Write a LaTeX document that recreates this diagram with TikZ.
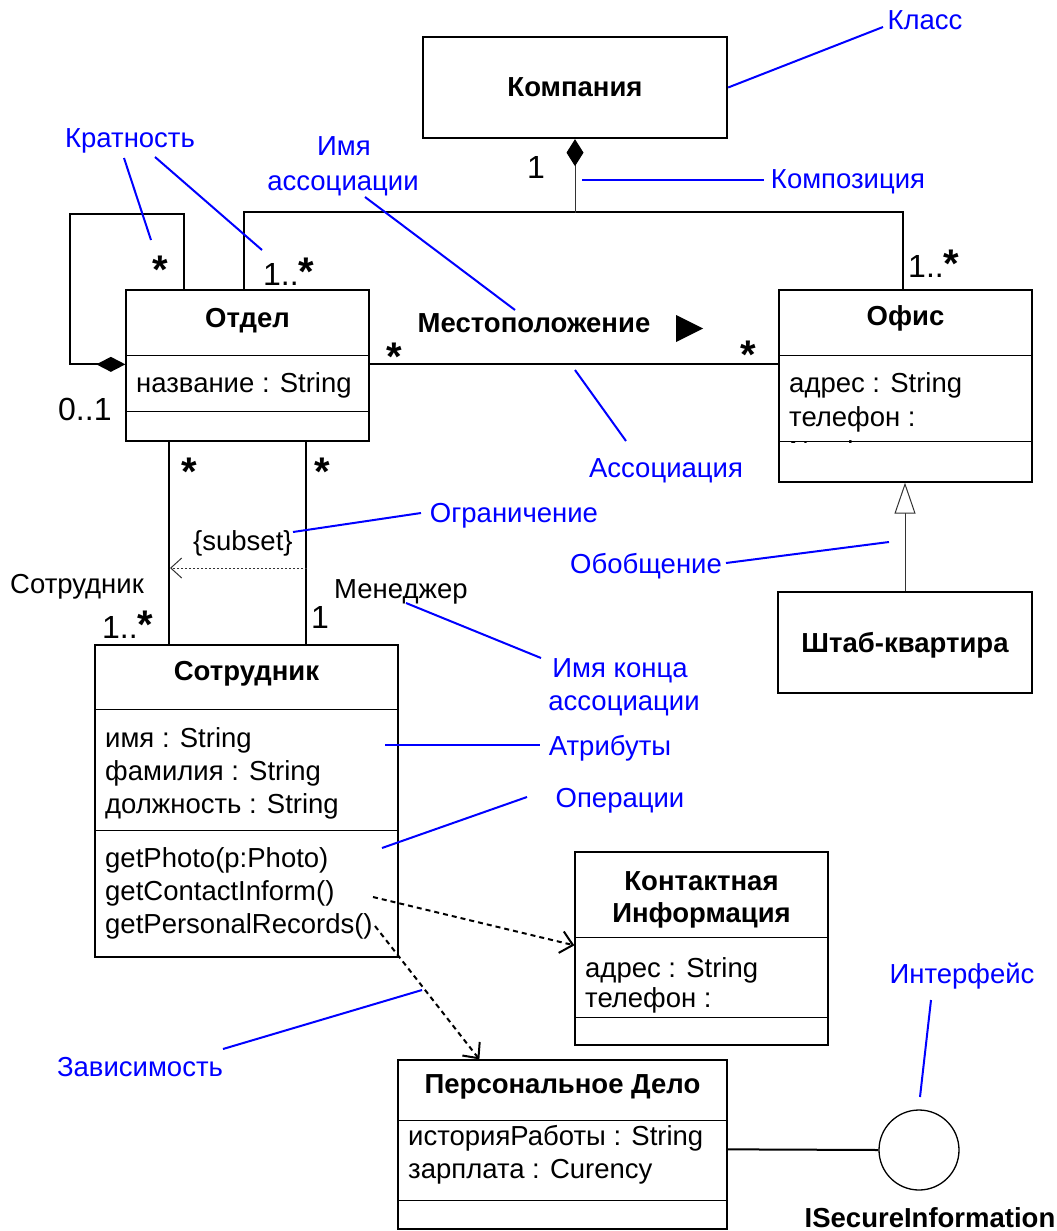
\documentclass[tikz,border=0pt]{standalone}
\usepackage{fontspec}
\setmainfont{Liberation Sans}
\usetikzlibrary{arrows.meta,calc}
\newcommand\mstar{{\fontsize{40}{40}\selectfont\bfseries *}}
\begin{document}
\begin{tikzpicture}[x=1pt,y=-1pt,
  font=\fontsize{27.5}{33}\selectfont,
  box/.style={draw, line width=1.3pt, inner sep=0pt},
  thickbox/.style={draw, line width=2.3pt, inner sep=0pt},
  sepline/.style={line width=1.3pt},
  lbl/.style={inner sep=0pt},
  mult/.style={inner sep=0pt, font=\fontsize{32}{36}\selectfont},
  bname/.style={inner sep=0pt, anchor=base, font=\fontsize{27.5}{33}\selectfont\bfseries},
  attr/.style={inner sep=0pt, anchor=base west},
  assoc/.style={line width=2pt},
  thinline/.style={line width=1pt, draw=black!80},
  dep/.style={line width=2pt, dash pattern=on 5pt off 4pt, -{Straight Barb[length=12pt,width=22pt]}},
  note/.style={draw=blue, line width=2pt},
  notetxt/.style={text=blue, inner sep=0pt, anchor=base}]
\useasboundingbox (0,0) rectangle (1057,1231);

% ---------- classes ----------
\node[thickbox, minimum width=304pt, minimum height=101pt] (kompania) at (575,87.5) {};
\node[bname] (kompania-n) at (575,96) {Компания};

\node[box, minimum width=243pt, minimum height=151pt] (otdel) at (247.5,365.5) {};
\draw[sepline] ($(otdel.north west)+(0,66)$) -- ($(otdel.north east)+(0,66)$);
\draw[sepline] ($(otdel.north west)+(0,122)$) -- ($(otdel.north east)+(0,122)$);
\node[bname] (otdel-n) at (247.5,327) {Отдел};
\node[attr] (otdel-a1) at (136,392) {название : String};

\node[box, minimum width=253pt, minimum height=192pt] (ofis) at (905.5,386) {};
\draw[sepline] ($(ofis.north west)+(0,66)$) -- ($(ofis.north east)+(0,66)$);
\draw[sepline] ($(ofis.north west)+(0,152)$) -- ($(ofis.north east)+(0,152)$);
\node[bname] (ofis-n) at (905.5,325) {Офис};
\node[attr] (ofis-a1) at (789,392) {адрес : String};
\node[attr] (ofis-a2) at (789,426) {телефон :};
\begin{scope}
  \clip (779,356) rectangle (1032,442);
  \node[attr] (ofis-a3) at (789,460) {Number};
\end{scope}

\node[thickbox, minimum width=254pt, minimum height=101pt] (shtab) at (905,642.5) {};
\node[bname] (shtab-n) at (905,652) {Штаб-квартира};

\node[box, minimum width=303pt, minimum height=312pt] (sotr) at (246.5,801) {};
\draw[sepline] ($(sotr.north west)+(0,65)$) -- ($(sotr.north east)+(0,65)$);
\draw[sepline] ($(sotr.north west)+(0,186)$) -- ($(sotr.north east)+(0,186)$);
\node[bname] (sotr-n) at (246.5,680) {Сотрудник};
\node[attr] (sotr-a1) at (105,747) {имя : String};
\node[attr] (sotr-a2) at (105,780) {фамилия : String};
\node[attr] (sotr-a3) at (105,813) {должность : String};
\node[attr] (sotr-o1) at (105,867) {getPhoto(p:Photo)};
\node[attr] (sotr-o2) at (105,900) {getContactInform()};
\node[attr] (sotr-o3) at (105,933) {getPersonalRecords()};

\node[box, minimum width=253pt, minimum height=193pt] (kontakt) at (701.5,948.5) {};
\draw[sepline] ($(kontakt.north west)+(0,86)$) -- ($(kontakt.north east)+(0,86)$);
\draw[sepline] ($(kontakt.north west)+(0,166)$) -- ($(kontakt.north east)+(0,166)$);
\node[bname] (kontakt-n1) at (701.5,890) {Контактная};
\node[bname] (kontakt-n2) at (701.5,922) {Информация};
\node[attr] (kontakt-a1) at (585,977) {адрес : String};
\node[attr] (kontakt-a2) at (585,1007) {телефон :};

\node[box, minimum width=329pt, minimum height=169pt] (persdelo) at (562.5,1144.5) {};
\draw[sepline] ($(persdelo.north west)+(0,61)$) -- ($(persdelo.north east)+(0,61)$);
\draw[sepline] ($(persdelo.north west)+(0,141)$) -- ($(persdelo.north east)+(0,141)$);
\node[bname] (persdelo-n) at (562.5,1093) {Персональное Дело};
\node[attr] (persdelo-a1) at (408,1145) {историяРаботы : String};
\node[attr] (persdelo-a2) at (408,1178) {зарплата : Curency};

\node[draw, circle, line width=1.3pt, minimum size=80pt, inner sep=0pt] (iface) at (919,1150) {};
\node[bname] (iface-n) at (930,1227) {ISecureInformation};

% ---------- connectors ----------
\coordinate (comp-j) at (575,213);
\draw[assoc] ($(otdel.north west)+(119,0)$) |- ($(ofis.north west)+(125,-77)$) -- ($(ofis.north west)+(125,0)$);
\draw[thinline, -{Diamond[length=27pt,width=17pt,color=black,fill=black]}] (comp-j) -- (kompania.south);

\coordinate (self-c) at (70,214);
\draw[assoc, -{Diamond[length=29pt,width=15pt]}] ($(otdel.north west)+(59,0)$) |- (self-c) |- ($(otdel.north west)+(0,75)$);

\draw[assoc] ($(otdel.north east)+(0,75)$) -- ($(ofis.north west)+(0,75)$);
\fill (676,315) -- (703,328.5) -- (676,342) -- cycle;
\node[bname] (mesto) at (534,332) {Местоположение};

\draw[assoc] ($(otdel.south west)+(44,0)$) -- ($(sotr.north west)+(75,0)$);
\draw[assoc] ($(otdel.south west)+(181,0)$) -- ($(sotr.north west)+(212,0)$);
\coordinate (sub-a) at (307,568);
\coordinate (sub-b) at (170,568);
\draw[thinline, dash pattern=on 2pt off 2pt, -{Straight Barb[length=11pt,width=20pt]}] (sub-a) -- (sub-b);

\draw[thinline, -{Triangle[open,length=31pt,width=21pt,fill=white]}] (shtab.north) -- (shtab.north |- ofis.south);

\coordinate (op-contact) at (373,897);
\coordinate (op-personal) at (375,926);
\draw[dep] (op-contact) -- ($(kontakt.north west)+(0,94)$);
\draw[dep] (op-personal) -- ($(persdelo.north west)+(82,0)$);

\draw[assoc] ($(persdelo.north east)+(0,90)$) -- (iface.west);

% ---------- multiplicities and role names ----------
\node[mult, anchor=base] (m-komp) at (536,178) {1};
\node[mult, anchor=base west] (m-otdel-top) at (263,285) {1..\mstar};
\node[mult, anchor=base west] (m-ofis-top) at (908,277) {1..\mstar};
\node[mult, anchor=base] (m-self) at (160,283) {\mstar};
\node[mult, anchor=base west] (m-01) at (58,420) {0..1};
\node[mult, anchor=base] (m-as1) at (394,370) {\mstar};
\node[mult, anchor=base] (m-as2) at (748,368) {\mstar};
\node[mult, anchor=base] (m-os1) at (189,485) {\mstar};
\node[mult, anchor=base] (m-os2) at (322,485) {\mstar};
\node[mult, anchor=base west] (m-sotr) at (102,638) {1..\mstar};
\node[mult, anchor=base] (m-men) at (320,628) {1};
\node[lbl, anchor=base west] (r-sotr) at (10,593) {Сотрудник};
\node[lbl, anchor=base west] (r-men) at (334,598) {Менеджер};
\node[lbl, anchor=base west] (subset) at (193,550) {\{subset\}};

% ---------- blue notes ----------
\node[notetxt] (n-klass) at (925,30) {Класс};
\node[notetxt] (n-krat) at (130,147) {Кратность};
\node[notetxt] (n-imya1) at (344,155) {Имя};
\node[notetxt] (n-imya2) at (343,190) {ассоциации};
\node[notetxt] (n-komp) at (848,188) {Композиция};
\node[notetxt] (n-assoc) at (666,477) {Ассоциация};
\node[notetxt] (n-ogr) at (514,522) {Ограничение};
\node[notetxt] (n-obob) at (646,573) {Обобщение};
\node[notetxt] (n-konca1) at (620,677) {Имя конца};
\node[notetxt] (n-konca2) at (624,710) {ассоциации};
\node[notetxt] (n-attr) at (610,755) {Атрибуты};
\node[notetxt] (n-oper) at (620,807) {Операции};
\node[notetxt] (n-zav) at (140,1076) {Зависимость};
\node[notetxt] (n-intf) at (962,983) {Интерфейс};

\coordinate (p-klass) at (883,27);
\coordinate (p-krat1a) at (124,158); \coordinate (p-krat1b) at (151,240);
\coordinate (p-krat2a) at (155,157); \coordinate (p-krat2b) at (262,250);
\coordinate (p-imya-a) at (365,197); \coordinate (p-imya-b) at (515,310);
\coordinate (p-komp-a) at (582,180); \coordinate (p-komp-b) at (764,180);
\coordinate (p-as-a) at (575,370); \coordinate (p-as-b) at (626,441);
\coordinate (p-ogr-a) at (293,532); \coordinate (p-ogr-b) at (421,513);
\coordinate (p-ob-a) at (726,563); \coordinate (p-ob-b) at (889,542);
\coordinate (p-kon-a) at (406,603); \coordinate (p-kon-b) at (541,658);
\coordinate (p-at-a) at (385,745); \coordinate (p-at-b) at (540,745);
\coordinate (p-op-a) at (382,848); \coordinate (p-op-b) at (527,797);
\coordinate (p-zav-a) at (223,1049); \coordinate (p-zav-b) at (422,990);
\coordinate (p-in-a) at (931,1000); \coordinate (p-in-b) at (920,1097);

\draw[note] (kompania.east) -- (p-klass);
\draw[note] (p-krat1a) -- (p-krat1b);
\draw[note] (p-krat2a) -- (p-krat2b);
\draw[note] (p-imya-a) -- (p-imya-b);
\draw[note] (p-komp-a) -- (p-komp-b);
\draw[note] (p-as-a) -- (p-as-b);
\draw[note] (p-ogr-a) -- (p-ogr-b);
\draw[note] (p-ob-a) -- (p-ob-b);
\draw[note] (p-kon-a) -- (p-kon-b);
\draw[note] (p-at-a) -- (p-at-b);
\draw[note] (p-op-a) -- (p-op-b);
\draw[note] (p-zav-a) -- (p-zav-b);
\draw[note] (p-in-a) -- (p-in-b);
\end{tikzpicture}
\end{document}
